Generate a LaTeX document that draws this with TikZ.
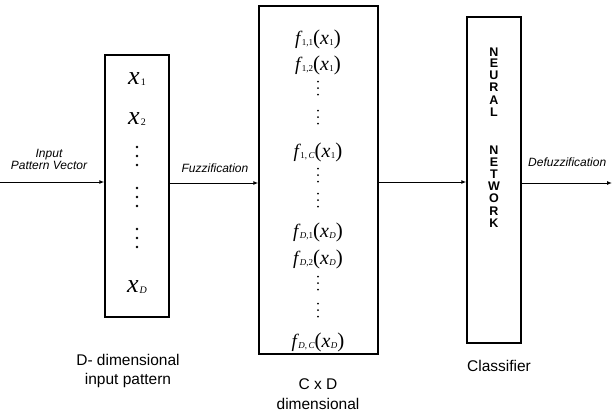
\documentclass[tikz,border=0pt]{standalone}
\usepackage{fontspec}
\setmainfont{Liberation Serif}
\setsansfont{Liberation Sans}
\usetikzlibrary{arrows.meta}
\newcommand{\lowsub}[2][9]{\raisebox{-0.3ex}{\fontsize{#1}{#1}\selectfont #2}}
\newcommand{\bigx}[1]{{\fontsize{26}{26}\selectfont\itshape x}\lowsub[10]{\kern1pt #1}}
\newcommand{\fx}[2]{{\fontsize{19}{19}\selectfont\itshape f}\lowsub{\kern1.5pt#1}{\fontsize{21}{21}\selectfont(\fontsize{20}{20}\selectfont\itshape x\upshape}\lowsub{\kern0.5pt#2}{\fontsize{21}{21}\selectfont)}}
\newcommand{\dotcol}[4]{\foreach \k in {-1,0,1} \fill (#1,#2+\k*#3) circle (#4);}
\begin{document}
\begin{tikzpicture}[x=1pt,y=-1pt,
  box/.style={draw,line width=1.4pt,inner sep=0pt},
  arr/.style={line width=1pt,-{Latex[length=5pt,width=4pt]}},
  lbl/.style={font=\sffamily\itshape\fontsize{12}{12}\selectfont,align=center,inner sep=0pt},
  captxt/.style={font=\sffamily\fontsize{15.5}{19.5}\selectfont,align=center,inner sep=0pt},
  el/.style={inner sep=0pt},
  nn/.style={font=\sffamily\bfseries\fontsize{12.5}{12.5}\selectfont,inner sep=0pt}]
\useasboundingbox (0,0) rectangle (616,413);
% boxes
\node[box,minimum width=64pt,minimum height=262pt] (b1) at (137,186) {};
\node[box,minimum width=119pt,minimum height=348pt] (b2) at (318.5,180) {};
\node[box,minimum width=54pt,minimum height=326pt] (b3) at (494,180) {};
% box 1 contents
\node[el] (x1) at (137,79) {\bigx{1}};
\node[el] (x2) at (137,119) {\bigx{2}};
\dotcol{137}{156}{9}{1.3pt}
\dotcol{137}{197}{9}{1.3pt}
\dotcol{137}{238}{9}{1.3pt}
\node[el] (xD) at (137,287) {\bigx{\itshape D}};
% box 2 contents
\node[el] (f11) at (318,39) {\fx{1,1}{1}};
\node[el] (f12) at (318,65) {\fx{1,2}{1}};
\dotcol{318}{88}{6.5}{1pt}
\dotcol{318}{117}{6.5}{1pt}
\node[el] (f1C) at (318,152) {\fx{1,\,\itshape C}{1}};
\dotcol{318}{175}{6.5}{1pt}
\dotcol{318}{200}{6.5}{1pt}
\node[el] (fD1) at (318,232) {\fx{\itshape D\upshape,1}{\itshape D}};
\node[el] (fD2) at (318,259) {\fx{\itshape D\upshape,2}{\itshape D}};
\dotcol{318}{283}{6.5}{1pt}
\dotcol{318}{310}{6.5}{1pt}
\node[el] (fDC) at (318,342) {\fx{\itshape D\upshape,\,\itshape C}{\itshape D}};
% neural network letters
\foreach \l/\y [count=\i] in {N/52,E/63.5,U/75.5,R/87.5,A/100,L/112.5,N/150,E/162,T/174,W/186,O/198.5,R/211,K/223}
  \node[nn] (nl\i) at (494,\y) {\l};
% arrows
\coordinate (start) at (0,182);
\coordinate (fz) at (169,183);
\coordinate (mid) at (378,182);
\coordinate (outp) at (612,183);
\draw[arr] (start) -- (start -| b1.west);
\draw[arr] (fz -| b1.east) -- (fz -| b2.west);
\draw[arr] (mid -| b2.east) -- (mid -| b3.west);
\draw[arr] (outp -| b3.east) -- (outp);
% labels
\node[lbl] (lin) at (49,159) {Input\\Pattern Vector};
\node[lbl] (lfz) at (215,168) {Fuzzification};
\node[lbl,anchor=west] (ldf) at (528,162) {Defuzzification};
\node[captxt] (c1) at (128,371) {D- dimensional\\input pattern};
\node[captxt] (c2) at (318,394) {C x D\\dimensional};
\node[captxt] (c3) at (499,366) {Classifier};
\end{tikzpicture}
\end{document}
